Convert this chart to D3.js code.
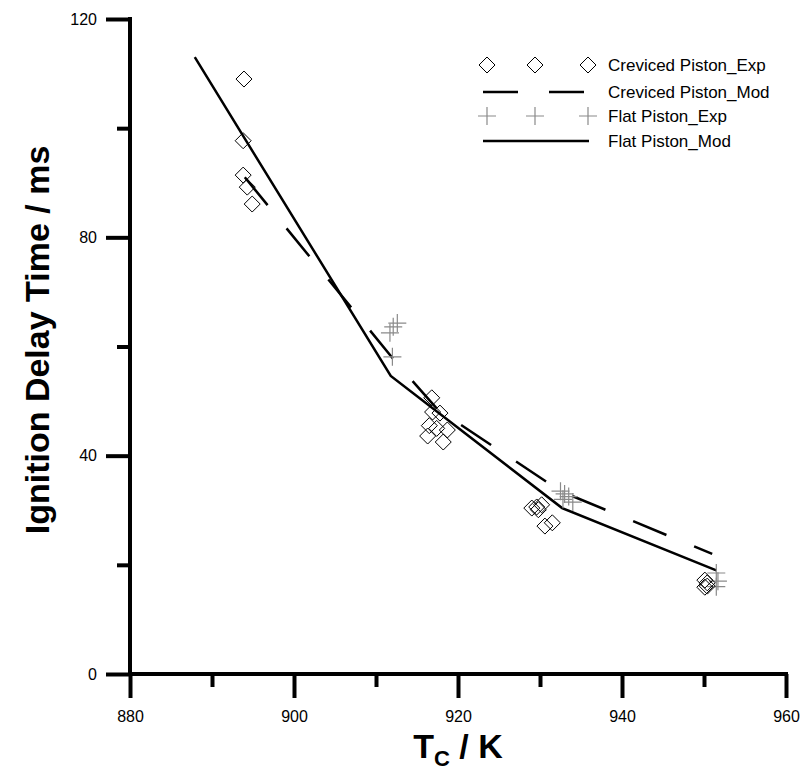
<!DOCTYPE html>
<html>
<head>
<meta charset="utf-8">
<script src="https://cdn.jsdelivr.net/npm/d3@7"></script>
<style>
  html, body { margin: 0; padding: 0; background: #fff; }
  svg { display: block; font-family: Arial, "Liberation Sans", sans-serif; }
</style>
</head>
<body>
<svg id="chart" width="803" height="772"></svg>
<script>
// Creviced piston, measured ignition delays
const crevicedExpT     = [893.9, 893.8, 893.8, 894.3, 894.9,
                          916.8, 916.9, 917.8, 917.4, 916.5, 918.7, 916.3, 918.2,
                          929.0, 929.6, 930.2, 929.8, 930.6, 931.5,
                          950.1, 950.4, 950.4, 950.1];
const crevicedExpDelay = [109.0, 97.7, 91.4, 89.2, 86.1,
                          50.6, 48.0, 47.8, 45.0, 45.5, 44.7, 43.6, 42.5,
                          30.4, 30.6, 31.0, 30.1, 27.1, 27.7,
                          17.2, 16.7, 16.1, 15.9];

// Creviced piston, model
const crevicedModT     = [894.0, 912.5, 917.5, 932.5, 951.0];
const crevicedModDelay = [91.0, 57.0, 48.5, 33.5, 22.0];

// Flat piston, measured ignition delays
const flatExpT     = [912.6, 912.1, 911.7, 912.0,
                      932.5, 933.0, 933.5, 934.0, 932.8,
                      951.5, 951.7, 951.5];
const flatExpDelay = [64.3, 63.6, 62.5, 58.1,
                      33.5, 33.0, 32.5, 31.5, 32.0,
                      18.5, 17.0, 16.0];

// Flat piston, model
const flatModT     = [887.9, 911.8, 932.7, 951.5];
const flatModDelay = [113.0, 54.6, 30.4, 19.0];

// Axis ticks
const xMajorTicks = [880, 900, 920, 940, 960];
const xMinorTicks = [890, 910, 930, 950];
const yMajorTicks = [0, 40, 80, 120];
const yMinorTicks = [20, 60, 100];

// Legend entries
const legendLabels = ["Creviced Piston_Exp", "Creviced Piston_Mod", "Flat Piston_Exp", "Flat Piston_Mod"];

const svg = d3.select("#chart");
const x = d3.scaleLinear().domain([880, 960]).range([130, 786]);
const y = d3.scaleLinear().domain([0, 120]).range([674, 19]);

const axisStroke = 4;

// X axis: major ticks with labels, minor ticks without
const gx = svg.append("g").attr("transform", `translate(0,${y(0)})`);
gx.call(d3.axisBottom(x).tickValues(xMajorTicks).tickSize(24).tickSizeOuter(0).tickPadding(13).tickFormat(d3.format("d")));
gx.call(g => g.append("g").call(d3.axisBottom(x).tickValues(xMinorTicks).tickSize(13).tickSizeOuter(0).tickFormat(""))
  .call(m => m.select(".domain").remove()));
gx.selectAll("line").attr("stroke", "#000").attr("stroke-width", axisStroke);
gx.select(".domain").attr("stroke", "#000").attr("stroke-width", axisStroke).attr("d", `M${x(880) - 2},0H${x(960) + 2}`);
gx.selectAll("text").attr("font-size", 16).attr("fill", "#000").attr("font-family", "Arial, 'Liberation Sans', sans-serif");

// Y axis
const gy = svg.append("g").attr("transform", `translate(${x(880)},0)`);
gy.call(d3.axisLeft(y).tickValues(yMajorTicks).tickSize(24).tickSizeOuter(0).tickPadding(9).tickFormat(d3.format("d")));
gy.call(g => g.append("g").call(d3.axisLeft(y).tickValues(yMinorTicks).tickSize(13).tickSizeOuter(0).tickFormat(""))
  .call(m => m.select(".domain").remove()));
gy.selectAll("line").attr("stroke", "#000").attr("stroke-width", axisStroke);
gy.select(".domain").attr("stroke", "#000").attr("stroke-width", axisStroke).attr("d", `M0,${y(120) - 2}V${y(0) + 2}`);
gy.selectAll("text").attr("font-size", 16).attr("fill", "#000").attr("font-family", "Arial, 'Liberation Sans', sans-serif");

// Axis titles
const xt = svg.append("text")
  .attr("x", 458).attr("y", 758)
  .attr("text-anchor", "middle")
  .attr("font-weight", "bold").attr("font-size", 34);
xt.append("tspan").text("T");
xt.append("tspan").attr("font-size", 22).attr("dy", 8).text("C");
xt.append("tspan").attr("dy", -8).text(" / K");

svg.append("text")
  .attr("transform", `translate(49,340) rotate(-90)`)
  .attr("text-anchor", "middle")
  .attr("font-weight", "bold").attr("font-size", 34)
  .text("Ignition Delay Time / ms");

// Marker shapes
const diamond = (cx, cy, r) => `M${cx},${cy - r}L${cx + r},${cy}L${cx},${cy + r}L${cx - r},${cy}Z`;
const plus = (cx, cy, r) => `M${cx - r},${cy}H${cx + r}M${cx},${cy - r}V${cy + r}`;

const line = d3.line().x(d => x(d[0])).y(d => y(d[1]));
const plot = svg.append("g");

// Model curves
plot.append("path")
  .datum(d3.zip(crevicedModT, crevicedModDelay))
  .attr("d", line)
  .attr("fill", "none").attr("stroke", "#000").attr("stroke-width", 2.5)
  .attr("stroke-dasharray", "36,30");

plot.append("path")
  .datum(d3.zip(flatModT, flatModDelay))
  .attr("d", line)
  .attr("fill", "none").attr("stroke", "#000").attr("stroke-width", 2.5);

// Measured points
plot.append("g").selectAll("path")
  .data(d3.zip(flatExpT, flatExpDelay))
  .join("path")
  .attr("d", d => plus(x(d[0]), y(d[1]), 9))
  .attr("fill", "none").attr("stroke", "#8a8a8a").attr("stroke-width", 1.2);

plot.append("g").selectAll("path")
  .data(d3.zip(crevicedExpT, crevicedExpDelay))
  .join("path")
  .attr("d", d => diamond(x(d[0]), y(d[1]), 8))
  .attr("fill", "none").attr("stroke", "#000").attr("stroke-width", 1);

// Legend
const legend = svg.append("g");
const legendRows = [65, 92, 116, 141];
const markerXs = [487, 535, 588];
legendLabels.forEach((label, i) => {
  const ly = legendRows[i];
  if (i === 0) {
    markerXs.forEach(mx => legend.append("path").attr("d", diamond(mx, ly, 8))
      .attr("fill", "none").attr("stroke", "#000").attr("stroke-width", 1));
  } else if (i === 1) {
    legend.append("path").attr("d", `M483,${ly}H589`)
      .attr("stroke", "#000").attr("stroke-width", 2.5).attr("stroke-dasharray", "35,31");
  } else if (i === 2) {
    markerXs.forEach(mx => legend.append("path").attr("d", plus(mx, ly, 9))
      .attr("fill", "none").attr("stroke", "#8a8a8a").attr("stroke-width", 1.2));
  } else {
    legend.append("path").attr("d", `M483,${ly}H589`)
      .attr("stroke", "#000").attr("stroke-width", 2.5);
  }
  legend.append("text").attr("x", 608).attr("y", ly).attr("dy", "0.35em")
    .attr("font-size", 17).text(label);
});
</script>
</body>
</html>
